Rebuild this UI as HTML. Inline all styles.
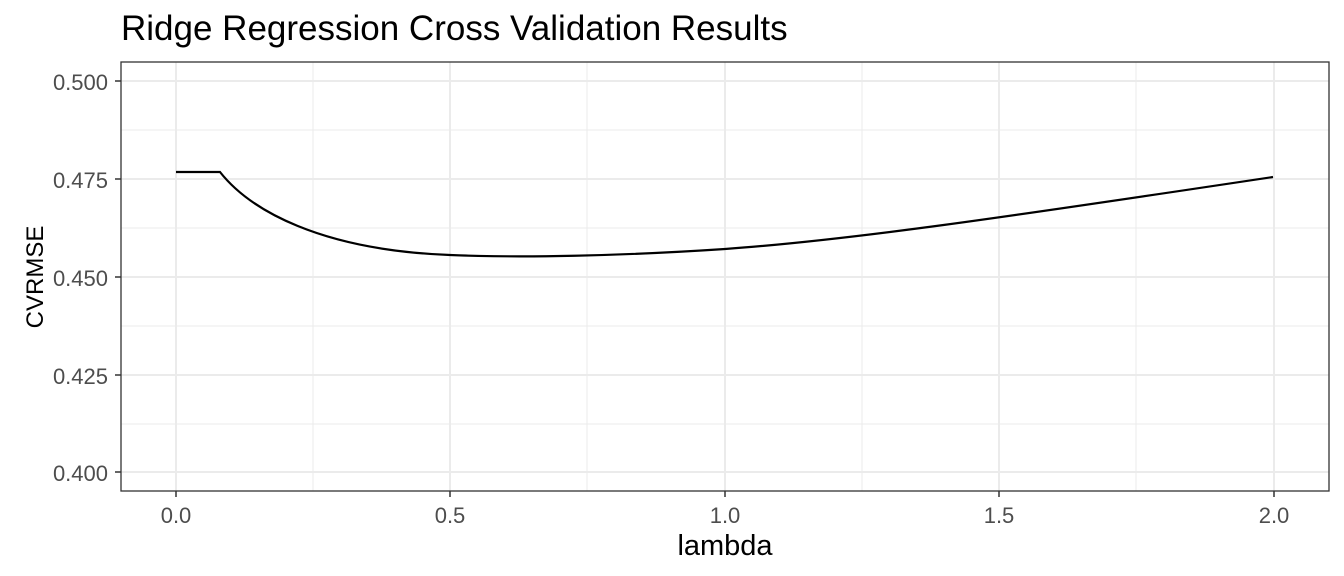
<!DOCTYPE html>
<html><head><meta charset="utf-8"><style>
html,body{margin:0;padding:0;background:#fff;}
svg{display:block;}
</style></head><body>
<svg width="1344" height="576" xmlns="http://www.w3.org/2000/svg" font-family="Liberation Sans, Arial, sans-serif">
<rect width="1344" height="576" fill="#fff"/>
<g stroke="#ebebeb" stroke-width="1">
<line x1="121" x2="1329" y1="130" y2="130"/><line x1="121" x2="1329" y1="228" y2="228"/>
<line x1="121" x2="1329" y1="326" y2="326"/><line x1="121" x2="1329" y1="424" y2="424"/>
<line y1="62" y2="491" x1="313" x2="313"/><line y1="62" y2="491" x1="587" x2="587"/>
<line y1="62" y2="491" x1="862" x2="862"/><line y1="62" y2="491" x1="1136" x2="1136"/>
</g>
<g stroke="#ebebeb" stroke-width="2">
<line x1="121" x2="1329" y1="81" y2="81"/><line x1="121" x2="1329" y1="179" y2="179"/>
<line x1="121" x2="1329" y1="277" y2="277"/><line x1="121" x2="1329" y1="375" y2="375"/>
<line x1="121" x2="1329" y1="472" y2="472"/>
<line y1="62" y2="491" x1="176" x2="176"/><line y1="62" y2="491" x1="450" x2="450"/>
<line y1="62" y2="491" x1="725" x2="725"/><line y1="62" y2="491" x1="999" x2="999"/>
<line y1="62" y2="491" x1="1274" x2="1274"/>
</g>
<path d="M176 172 L220 172 C250 210 320 250 450 255 C520 258 620 256 725 249 C850 240 1000 218 1273 177" fill="none" stroke="#000" stroke-width="2.2"/>
<rect x="121" y="62" width="1208" height="429" fill="none" stroke="#333" stroke-width="1.3"/>
<g stroke="#333" stroke-width="1.5">
<line x1="115" x2="121" y1="81" y2="81"/><line x1="115" x2="121" y1="179" y2="179"/>
<line x1="115" x2="121" y1="277" y2="277"/><line x1="115" x2="121" y1="375" y2="375"/>
<line x1="115" x2="121" y1="472" y2="472"/>
<line y1="491" y2="497" x1="176" x2="176"/><line y1="491" y2="497" x1="450" x2="450"/>
<line y1="491" y2="497" x1="725" x2="725"/><line y1="491" y2="497" x1="999" x2="999"/>
<line y1="491" y2="497" x1="1274" x2="1274"/>
</g>
<g fill="#4d4d4d" font-size="22" text-anchor="end">
<text x="108" y="90">0.500</text><text x="108" y="188">0.475</text>
<text x="108" y="286">0.450</text><text x="108" y="384">0.425</text>
<text x="108" y="481">0.400</text>
</g>
<g fill="#4d4d4d" font-size="22" text-anchor="middle">
<text x="176" y="523">0.0</text><text x="450" y="523">0.5</text>
<text x="725" y="523">1.0</text><text x="999" y="523">1.5</text>
<text x="1274" y="523">2.0</text>
</g>
<text x="725" y="555" font-size="29" text-anchor="middle" fill="#000">lambda</text>
<text transform="translate(43,277) rotate(-90)" font-size="24" text-anchor="middle" fill="#000">CVRMSE</text>
<text x="121" y="40" font-size="35" fill="#000">Ridge Regression Cross Validation Results</text>
</svg>
</body></html>
